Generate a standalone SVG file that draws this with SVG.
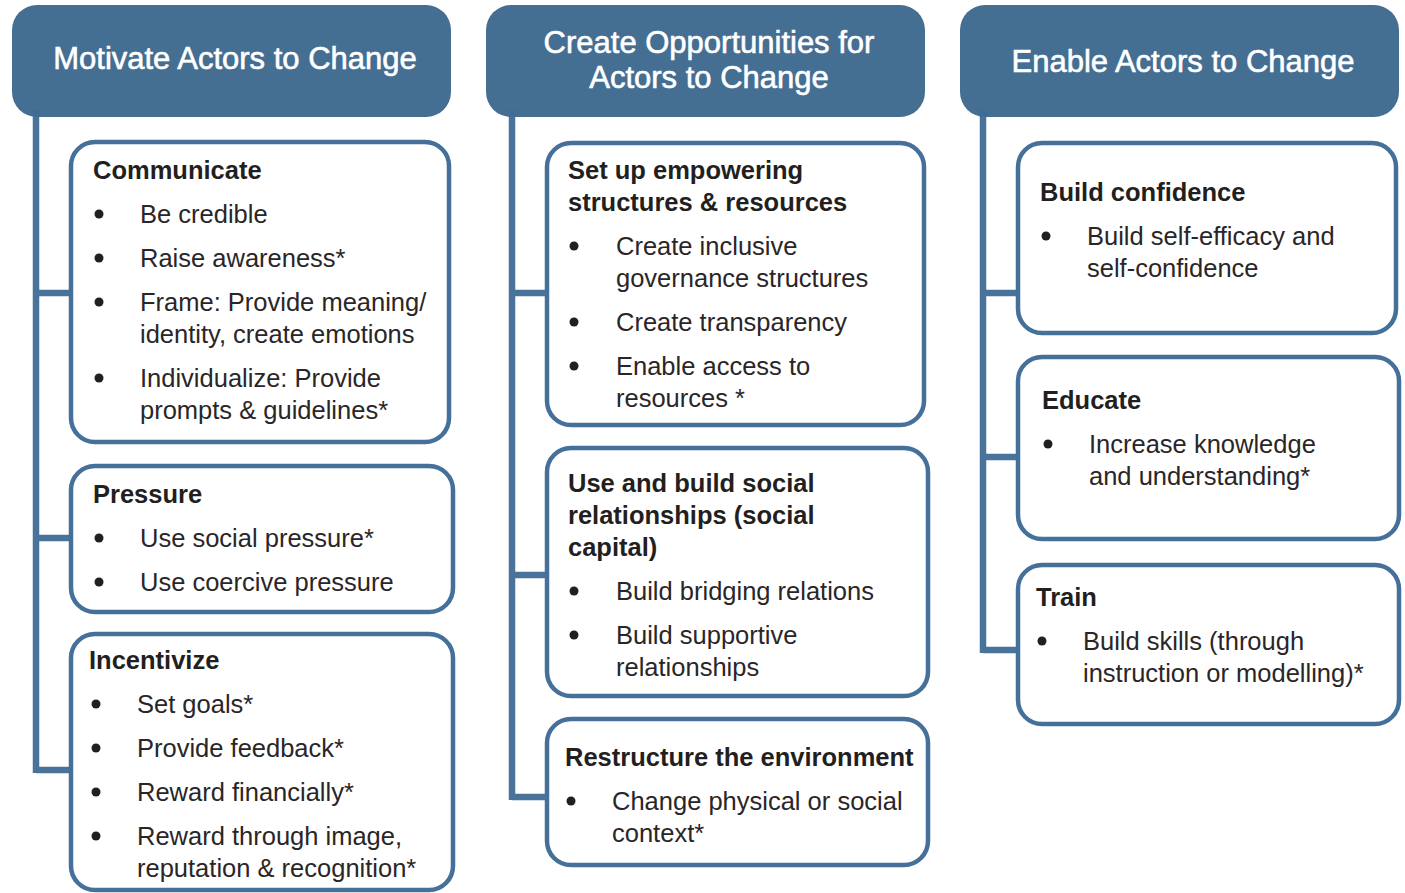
<svg xmlns="http://www.w3.org/2000/svg" width="1405" height="893" viewBox="0 0 1405 893">
<style>
.hdr{fill:#456e93;}
.hdrt{font-family:"Liberation Sans",Arial,sans-serif;font-size:31px;fill:#ffffff;stroke:#ffffff;stroke-width:0.6;text-anchor:middle;}
.box{fill:#ffffff;stroke:#44709a;stroke-width:4.5;}
.ttl{font-family:"Liberation Sans",Arial,sans-serif;font-size:25.5px;font-weight:bold;fill:#231f20;}
.itm{font-family:"Liberation Sans",Arial,sans-serif;font-size:25.5px;fill:#2a2627;}
.bul{fill:#231f20;}
.con{fill:none;stroke:#3f6b96;stroke-width:6.5;stroke-opacity:0.95;}
</style>
<rect width="1405" height="893" fill="#ffffff"/>

<g id="header-motivate">
<rect class="hdr" x="12" y="5" width="439" height="112" rx="25"/>
<text class="hdrt" x="235" y="69">Motivate Actors to Change</text>
</g>
<g id="header-opportunities">
<rect class="hdr" x="486" y="5" width="439" height="112" rx="25"/>
<text class="hdrt" x="709" y="53">Create Opportunities for</text>
<text class="hdrt" x="709" y="88">Actors to Change</text>
</g>
<g id="header-enable">
<rect class="hdr" x="960" y="5" width="439" height="112" rx="25"/>
<text class="hdrt" x="1183" y="72">Enable Actors to Change</text>
</g>

<g id="connectors">
<path class="con" d="M36 110 V773 M36 293 H72 M36 538 H72 M36 770 H72"/>
<path class="con" d="M512 110 V800 M512 293 H548 M512 575 H548 M512 797 H548"/>
<path class="con" d="M983 110 V653 M983 293 H1019 M983 457 H1019 M983 650 H1019"/>
</g>

<g id="box-communicate">
<rect class="box" x="71" y="142" width="378" height="300" rx="24"/>
<text class="ttl" x="93" y="179">Communicate</text>
<circle class="bul" cx="99" cy="214" r="4.5"/>
<text class="itm" x="140" y="223">Be credible</text>
<circle class="bul" cx="99" cy="258" r="4.5"/>
<text class="itm" x="140" y="267">Raise awareness*</text>
<circle class="bul" cx="99" cy="302" r="4.5"/>
<text class="itm" x="140" y="311">Frame: Provide meaning/</text>
<text class="itm" x="140" y="343">identity, create emotions</text>
<circle class="bul" cx="99" cy="378" r="4.5"/>
<text class="itm" x="140" y="387">Individualize: Provide</text>
<text class="itm" x="140" y="419">prompts &amp; guidelines*</text>
</g>

<g id="box-pressure">
<rect class="box" x="71" y="466" width="382" height="146" rx="24"/>
<text class="ttl" x="93" y="503">Pressure</text>
<circle class="bul" cx="99" cy="538" r="4.5"/>
<text class="itm" x="140" y="547">Use social pressure*</text>
<circle class="bul" cx="99" cy="582" r="4.5"/>
<text class="itm" x="140" y="591">Use coercive pressure</text>
</g>

<g id="box-incentivize">
<rect class="box" x="71" y="634" width="382" height="256" rx="24"/>
<text class="ttl" x="89" y="669">Incentivize</text>
<circle class="bul" cx="96" cy="704" r="4.5"/>
<text class="itm" x="137" y="713">Set goals*</text>
<circle class="bul" cx="96" cy="748" r="4.5"/>
<text class="itm" x="137" y="757">Provide feedback*</text>
<circle class="bul" cx="96" cy="792" r="4.5"/>
<text class="itm" x="137" y="801">Reward financially*</text>
<circle class="bul" cx="96" cy="836" r="4.5"/>
<text class="itm" x="137" y="845">Reward through image,</text>
<text class="itm" x="137" y="877">reputation &amp; recognition*</text>
</g>

<g id="box-structures">
<rect class="box" x="547" y="143" width="377" height="282" rx="24"/>
<text class="ttl" x="568" y="179">Set up empowering</text>
<text class="ttl" x="568" y="211">structures &amp; resources</text>
<circle class="bul" cx="574" cy="246" r="4.5"/>
<text class="itm" x="616" y="255">Create inclusive</text>
<text class="itm" x="616" y="287">governance structures</text>
<circle class="bul" cx="574" cy="322" r="4.5"/>
<text class="itm" x="616" y="331">Create transparency</text>
<circle class="bul" cx="574" cy="366" r="4.5"/>
<text class="itm" x="616" y="375">Enable access to</text>
<text class="itm" x="616" y="407">resources *</text>
</g>

<g id="box-social">
<rect class="box" x="547" y="448" width="381" height="248" rx="24"/>
<text class="ttl" x="568" y="492">Use and build social</text>
<text class="ttl" x="568" y="524">relationships (social</text>
<text class="ttl" x="568" y="556">capital)</text>
<circle class="bul" cx="574" cy="591" r="4.5"/>
<text class="itm" x="616" y="600">Build bridging relations</text>
<circle class="bul" cx="574" cy="635" r="4.5"/>
<text class="itm" x="616" y="644">Build supportive</text>
<text class="itm" x="616" y="676">relationships</text>
</g>

<g id="box-restructure">
<rect class="box" x="547" y="719" width="381" height="146" rx="24"/>
<text class="ttl" x="565" y="766">Restructure the environment</text>
<circle class="bul" cx="571" cy="801" r="4.5"/>
<text class="itm" x="612" y="810">Change physical or social</text>
<text class="itm" x="612" y="842">context*</text>
</g>

<g id="box-confidence">
<rect class="box" x="1018" y="143" width="378" height="190" rx="24"/>
<text class="ttl" x="1040" y="201">Build confidence</text>
<circle class="bul" cx="1046" cy="236" r="4.5"/>
<text class="itm" x="1087" y="245">Build self-efficacy and</text>
<text class="itm" x="1087" y="277">self-confidence</text>
</g>

<g id="box-educate">
<rect class="box" x="1018" y="357" width="381" height="182" rx="24"/>
<text class="ttl" x="1042" y="409">Educate</text>
<circle class="bul" cx="1048" cy="444" r="4.5"/>
<text class="itm" x="1089" y="453">Increase knowledge</text>
<text class="itm" x="1089" y="485">and understanding*</text>
</g>

<g id="box-train">
<rect class="box" x="1018" y="565" width="381" height="159" rx="24"/>
<text class="ttl" x="1036" y="606">Train</text>
<circle class="bul" cx="1042" cy="641" r="4.5"/>
<text class="itm" x="1083" y="650">Build skills (through</text>
<text class="itm" x="1083" y="682">instruction or modelling)*</text>
</g>
</svg>
